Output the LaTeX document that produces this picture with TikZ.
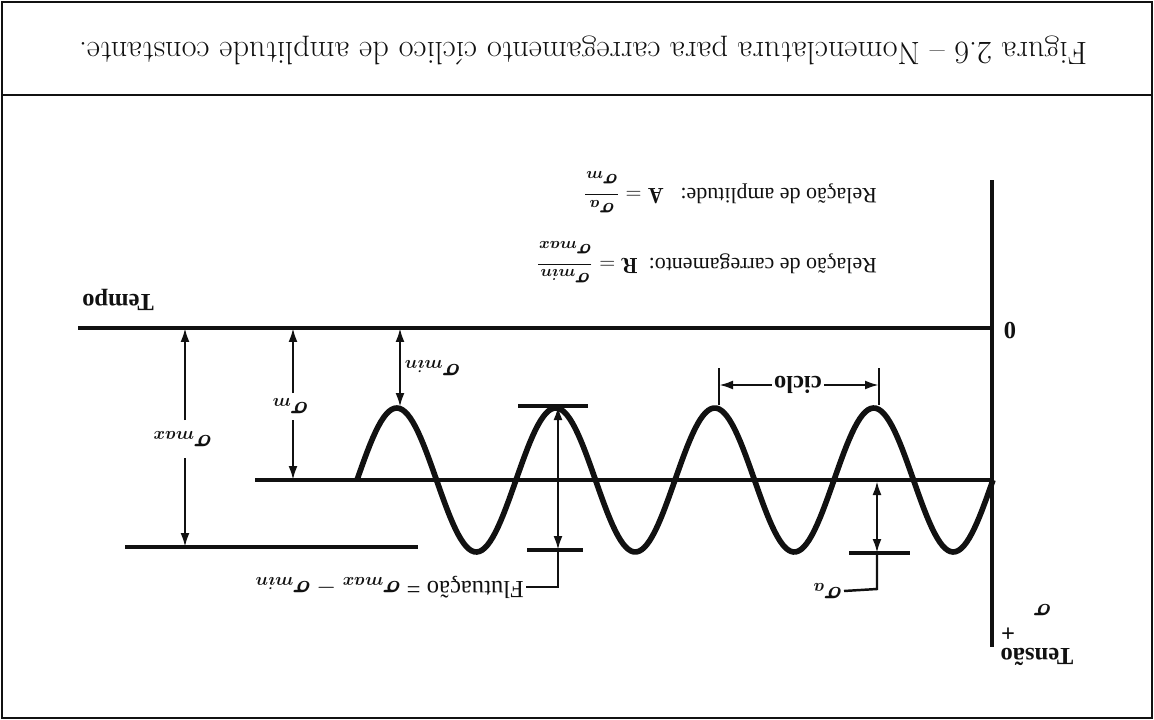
\documentclass[tikz,border=0pt]{standalone}
\usepackage{amsmath}
\usepackage{bm}
\usepackage{fontspec}
\newfontfamily\labelfont{Liberation Serif}
\usepackage{tikz}
\usetikzlibrary{arrows.meta}
\usepackage{xcolor}
\definecolor{scanink}{HTML}{111111}

\begin{document}
\begin{tikzpicture}[
  x=0.02cm, y=-0.02cm,
  flip/.style={rotate=180, inner sep=1pt, text=scanink},
  lbl/.style={flip, font=\labelfont\fontsize{14}{16}\selectfont},
  blbl/.style={flip, font=\labelfont\bfseries\fontsize{14}{16}\selectfont},
  frm/.style={draw=scanink, line width=1.6pt},
  ln/.style={draw=scanink, line width=2pt},
  wave/.style={draw=scanink, line width=3.2pt},
  dim/.style={draw=scanink, line width=1.4pt,
    {Latex[length=2.8mm,width=1.8mm]}-{Latex[length=2.8mm,width=1.8mm]}},
  half/.style={draw=scanink, line width=1.4pt, -{Latex[length=2.8mm,width=1.8mm]}}
]
  \useasboundingbox (0,0) rectangle (1154,720);

  % Frame and caption
  \draw[frm] (2,2) rectangle (1152,718);
  \draw[frm] (2,95) -- (1152,95);
  \node[flip, font=\fontsize{18.4}{22}\selectfont] (title) at (583,50)
    {Figura 2.6 -- Nomenclatura para carregamento cíclico de amplitude constante.};

  % Axes
  \coordinate (axtop) at (992,180);
  \coordinate (axbot) at (992,647);
  \coordinate (ax0) at (992,328);
  \coordinate (axm) at (992,480);
  \coordinate (zl) at (78,328);
  \coordinate (ml) at (255,480);
  \draw[ln] (axtop) -- (axbot);
  \draw[ln] (zl) -- (ax0);
  \draw[ln] (ml) -- (axm);
  \draw[ln] (125,547) coordinate (maxl) -- (418,547) coordinate (maxr);

  \node[blbl] (zero) at (1010,331) {0};
  \node[blbl] (tempo) at (118,300) {Tempo};
  \node[blbl] (tensao) at (1037,657) {Tensão};
  \node[blbl] (plus) at (1008,632) {+};
  \node[lbl] (sig) at (1042,610) {$\bm{\sigma}$};

  % Load cycles
  \draw[wave] plot[domain=357:993, samples=240]
    (\x, {480-72*sin(2.26415*(\x-357))});

  % sigma_max, sigma_m
  \foreach \x/\a/\b/\y/\n/\s in {185/420/458/547/smax/max, 293/393/420/480/sm/m} {
    \coordinate (\n top) at (\x,328);
    \coordinate (\n bot) at (\x,\y);
    \coordinate (\n g1) at (\x,\a);
    \coordinate (\n g2) at (\x,\b);
    \node[lbl] (\n) at (\x-3,{(\a+\b)/2}) {$\bm{\sigma}_{\bm{\s}}$};
    \draw[half] (\n g1) -- (\n top);
    \draw[half] (\n g2) -- (\n bot);
  }

  % sigma_min
  \coordinate (mintop) at (400,328);
  \coordinate (minpk) at (400,407);
  \draw[dim] (mintop) -- (minpk);
  \node[lbl] (smin) at (432,368) {$\bm{\sigma}_{\bm{min}}$};

  % Fluctuation
  \draw[ln] (518,406) coordinate (ft1) -- (588,406) coordinate (ft2);
  \draw[ln] (527,550) coordinate (fb1) -- (583,550) coordinate (fb2);
  \coordinate (ftop) at (558,406);
  \coordinate (fbot) at (558,550);
  \coordinate (fknee) at (558,587);
  \node[lbl, anchor=west] (flut) at (526,587)
    {Flutuação = $\bm{\sigma}_{\bm{max}} - \bm{\sigma}_{\bm{min}}$};
  \draw[dim] (ftop) -- (fbot);
  \draw[ln, line width=1.4pt] (fbot) -- (fknee) -- (flut.west);

  % Amplitude
  \coordinate (atop) at (877,481);
  \coordinate (abot) at (877,553);
  \coordinate (aknee) at (877,589);
  \draw[ln] (849,553) -- (910,553);
  \draw[dim] (atop) -- (abot);
  \node[lbl, anchor=west] (sa) at (844,591) {$\bm{\sigma}_{\bm{a}}$};
  \draw[ln, line width=1.4pt] (abot) -- (aknee) -- (sa.west);

  % Cycle
  \draw[ln, line width=1.6pt] (719,368) coordinate (c1) -- (719,405);
  \draw[ln, line width=1.6pt] (879,368) coordinate (c2) -- (879,405);
  \node[blbl] (ciclo) at (798,385) {ciclo};
  \draw[half] (ciclo) -- (719,385);
  \draw[half] (ciclo) -- (879,385);

  % Ratios
  \node[lbl, anchor=west, font=\labelfont\fontsize{12.5}{15}\selectfont] (rcar) at (879,262)
    {Relação de carregamento:\enspace $\mathbf{R} = \dfrac{\bm{\sigma}_{\bm{min}}}{\bm{\sigma}_{\bm{max}}}$};
  \node[lbl, anchor=west, font=\labelfont\fontsize{12.5}{15}\selectfont] (ramp) at (879,192)
    {Relação de amplitude:\enspace\ $\mathbf{A} = \dfrac{\bm{\sigma}_{\bm{a}}}{\bm{\sigma}_{\bm{m}}}$};
\end{tikzpicture}
\end{document}
